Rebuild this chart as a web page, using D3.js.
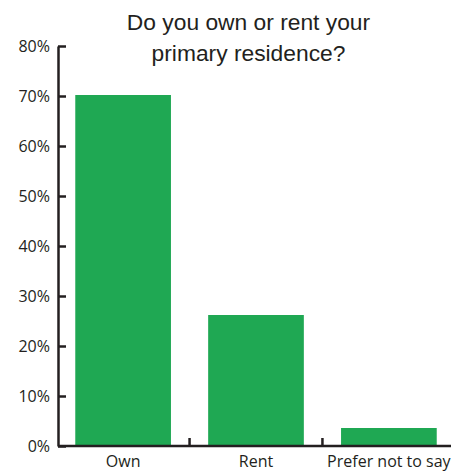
<!DOCTYPE html>
<html>
<head>
<meta charset="utf-8">
<script src="https://cdn.jsdelivr.net/npm/d3@7"></script>
<style>
  body { margin: 0; background: #fff; }
</style>
</head>
<body>
<div id="chart"></div>
<script>
// data
const categories = ["Own", "Rent", "Prefer not to say"];
const shares = [70.2, 26.2, 3.6];
const yTicks = [0, 10, 20, 30, 40, 50, 60, 70, 80];
const titleLines = ["Do you own or rent your", "primary residence?"];

const width = 451, height = 473;
const margin = { top: 46, right: 0, bottom: 27, left: 58 };
const ink = "#231f20";
const green = "#1fa853";

const svg = d3.select("#chart").append("svg")
  .attr("width", width)
  .attr("height", height);

const x = d3.scaleBand()
  .domain(categories)
  .range([margin.left, margin.left + 396])
  .paddingInner(0.28)
  .paddingOuter(0.13);

const y = d3.scaleLinear()
  .domain([0, 80])
  .range([height - margin.bottom, margin.top]);

// title
svg.append("g")
  .selectAll("text")
  .data(titleLines)
  .join("text")
    .attr("x", 248.5)
    .attr("y", (d, i) => 30 + i * 31)
    .attr("text-anchor", "middle")
    .attr("font-family", "Liberation Sans, Arial, sans-serif")
    .attr("font-size", "22.8px")
    .attr("fill", ink)
    .text(d => d);

// bars
svg.append("g")
  .attr("fill", green)
  .selectAll("rect")
  .data(shares)
  .join("rect")
    .attr("x", (d, i) => x(categories[i]))
    .attr("y", d => y(d))
    .attr("width", x.bandwidth())
    .attr("height", d => y(0) - y(d));

// y axis
const yAxis = svg.append("g")
  .attr("transform", `translate(${margin.left},0)`)
  .call(d3.axisLeft(y).tickValues(yTicks).tickFormat(d => d + "%")
    .tickSizeInner(-8).tickSizeOuter(0).tickPadding(8));
yAxis.select(".domain").attr("stroke", ink).attr("stroke-width", 2.5);
yAxis.selectAll(".tick line").attr("stroke", ink).attr("stroke-width", 2.5);
yAxis.selectAll(".tick text")
  .attr("fill", ink)
  .attr("font-family", "Open Sans, sans-serif")
  .attr("font-size", "16px");

// x axis: line, boundary ticks between bands, labels under bands
const xg = svg.append("g").attr("transform", `translate(0,${y(0)})`);
xg.append("line")
  .attr("x1", margin.left).attr("x2", width)
  .attr("stroke", ink).attr("stroke-width", 2.5);
const gap = x.step() * x.paddingInner() / 2;
xg.selectAll("line.b")
  .data(categories.slice(1))
  .join("line")
    .attr("class", "b")
    .attr("x1", d => x(d) - gap).attr("x2", d => x(d) - gap)
    .attr("y1", 0).attr("y2", -8)
    .attr("stroke", ink).attr("stroke-width", 2.5);
xg.selectAll("text")
  .data(categories)
  .join("text")
    .attr("x", d => x(d) + x.bandwidth() / 2)
    .attr("y", 21)
    .attr("text-anchor", "middle")
    .attr("fill", ink)
    .attr("font-family", "Open Sans, sans-serif")
    .attr("font-size", "16px")
    .text(d => d);
</script>
</body>
</html>
